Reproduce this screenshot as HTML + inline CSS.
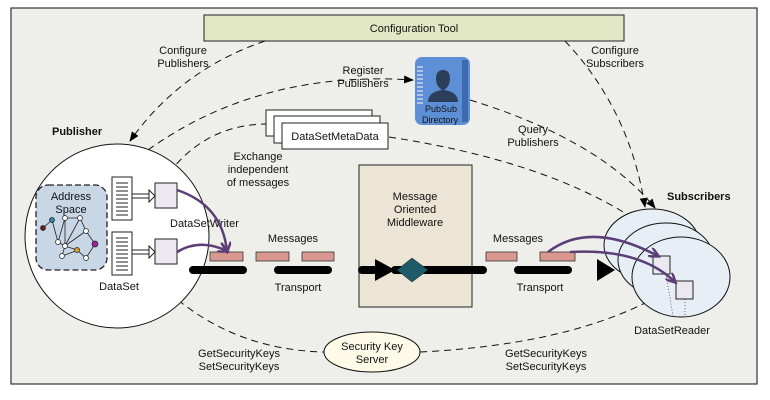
<!DOCTYPE html>
<html><head><meta charset="utf-8"><style>
body{margin:0;background:#fff}
svg{display:block}
text{font-family:"Liberation Sans",Arial,sans-serif;font-size:11px;fill:#111}
</style></head><body>
<svg width="770" height="400" viewBox="0 0 770 400" xmlns="http://www.w3.org/2000/svg">
<defs>
<marker id="ah" markerWidth="10" markerHeight="8" refX="9" refY="4" orient="auto" markerUnits="userSpaceOnUse"><path d="M0,0 L10,4 L0,8 z" fill="#000"/></marker>
<marker id="pa" markerWidth="12" markerHeight="10" refX="9" refY="5" orient="auto" markerUnits="userSpaceOnUse"><path d="M0,0 L10,5 L0,10" fill="none" stroke="#5b3e78" stroke-width="2.5"/></marker>
</defs>
<rect x="11" y="8" width="746" height="376" fill="#eeeeea" stroke="#333" stroke-width="1.2"/>
<rect x="204" y="15" width="420" height="26" fill="#e2e8c6" stroke="#222"/>
<text x="414" y="32" text-anchor="middle">Configuration Tool</text>
<g fill="none" stroke="#111" stroke-dasharray="7,5" stroke-width="1">
<path d="M265,41 Q180,70 130,141" marker-end="url(#ah)"/>
<path d="M565,41 Q630,110 645,207" marker-end="url(#ah)"/>
<path d="M470,100 Q600,140 655,208" marker-end="url(#ah)"/>
<path d="M148,150 Q260,70 413,80" marker-end="url(#ah)"/>
<path d="M162,183 Q200,125 266,124"/>
<path d="M389,137 Q540,160 628,215"/>
<path d="M178,300 Q240,350 324,352"/>
<path d="M420,352 Q560,345 645,303"/>
</g>
<circle cx="117" cy="236" r="92" fill="#fff" stroke="#111"/>
<rect x="36" y="185" width="71" height="85" rx="12" fill="#c9d6e6" stroke="#222" stroke-dasharray="6,3" stroke-width="1.3"/>
<text x="71" y="200" text-anchor="middle">Address</text>
<text x="71" y="213" text-anchor="middle">Space</text>
<g stroke="#222" stroke-width="0.8" fill="none">
<path d="M43,228 L52,220 L58,242 L65,218 L80,218 L86,231 L95,244 L86,258 L77,250 L65,246 L58,242"/>
<path d="M65,218 L65,246 L62,256 L73,252 L77,250"/>
<path d="M80,218 L65,246 M86,231 L65,246"/>
</g>
<g stroke="#222" stroke-width="0.7">
<circle cx="43" cy="228" r="2.5" fill="#6a1e1e"/><circle cx="52" cy="220" r="2.5" fill="#2a8aa0"/>
<circle cx="58" cy="242" r="2.5" fill="#fff"/><circle cx="65" cy="218" r="2.5" fill="#fff"/>
<circle cx="80" cy="218" r="2.5" fill="#fff"/><circle cx="86" cy="231" r="2.5" fill="#fff"/>
<circle cx="95" cy="244" r="3" fill="#a020a0"/><circle cx="86" cy="258" r="2.5" fill="#fff"/>
<circle cx="77" cy="250" r="2.5" fill="#d8a020"/><circle cx="65" cy="246" r="2.5" fill="#fff"/>
<circle cx="62" cy="256" r="2.5" fill="#fff"/>
</g>
<g stroke="#222" fill="#fff">
<rect x="112" y="177" width="20" height="43"/><rect x="112" y="232" width="20" height="43"/>
<rect x="155" y="183" width="22" height="25" fill="#ebe8f0"/><rect x="155" y="239" width="22" height="25" fill="#ebe8f0"/>
</g>
<g stroke="#222" stroke-width="1">
<path d="M116,183h12M116,187h12M116,191h12M116,195h12M116,199h12M116,203h12M116,207h12M116,211h12M116,215h12"/>
<path d="M116,238h12M116,242h12M116,246h12M116,250h12M116,254h12M116,258h12M116,262h12M116,266h12M116,270h12"/>
<path d="M132,194h17M132,198h17M132,250h17M132,254h17" stroke-width="0.9"/>
</g>
<path d="M149,190 L155,196 L149,202 z M149,246 L155,252 L149,258 z" fill="#fff" stroke="#222"/>
<text x="170" y="227">DataSetWriter</text>
<text x="119" y="290" text-anchor="middle">DataSet</text>
<text x="52" y="135" font-weight="bold">Publisher</text>
<g fill="#fff" stroke="#222">
<rect x="266" y="110" width="106" height="26"/><rect x="274" y="116" width="106" height="27"/><rect x="282" y="123" width="106" height="26"/>
</g>
<text x="335" y="140" text-anchor="middle">DataSetMetaData</text>
<text x="258" y="160" text-anchor="middle">Exchange</text>
<text x="258" y="173" text-anchor="middle">independent</text>
<text x="258" y="186" text-anchor="middle">of messages</text>
<rect x="415" y="57" width="55" height="68" rx="7" fill="#5d8fd6"/>
<rect x="462" y="60" width="6" height="62" fill="#3d6bb0"/>
<g stroke="#cfd8e8" stroke-width="1.5"><path d="M417,67h6M417,71h6M417,75h6M417,79h6M417,83h6M417,87h6M417,91h6M417,95h6M417,99h6M417,103h6"/></g>
<path d="M428,102 Q428,92 442,90 Q436,86 436,79 Q436,70 443,70 Q450,70 450,79 Q450,86 444,90 Q458,92 458,102 z" fill="#2c3f5a"/>
<text x="425" y="112" style="font-size:9px;fill:#111">PubSub</text>
<text x="422" y="123" style="font-size:9px;fill:#111">Directory</text>
<text x="183" y="54" text-anchor="middle">Configure</text>
<text x="183" y="67" text-anchor="middle">Publishers</text>
<text x="615" y="54" text-anchor="middle">Configure</text>
<text x="615" y="67" text-anchor="middle">Subscribers</text>
<text x="363" y="74" text-anchor="middle">Register</text>
<text x="363" y="87" text-anchor="middle">Publishers</text>
<text x="533" y="133" text-anchor="middle">Query</text>
<text x="533" y="146" text-anchor="middle">Publishers</text>
<rect x="359" y="165" width="113" height="142" fill="#ece5d5" stroke="#222"/>
<text x="415" y="200" text-anchor="middle">Message</text>
<text x="415" y="213" text-anchor="middle">Oriented</text>
<text x="415" y="226" text-anchor="middle">Middleware</text>
<g stroke="#000" stroke-width="8" stroke-linecap="round">
<path d="M193,270h50M278,270h50M362,270h14M395,270h88M518,270h50"/>
</g>
<path d="M375,259 L395,270 L375,281 z" fill="#000"/>
<path d="M397,270 L412,258 L428,270 L412,282 z" fill="#1f5a6a" stroke="#111" stroke-width="0.5"/>
<path d="M597,259 L615,270 L597,281 z" fill="#000"/>
<g fill="#d89890" stroke="#333" stroke-width="0.8">
<rect x="210" y="252" width="33" height="9"/><rect x="256" y="252" width="33" height="9"/><rect x="302" y="252" width="32" height="9"/>
<rect x="486" y="252" width="31" height="9"/><rect x="540" y="252" width="35" height="9"/>
</g>
<text x="293" y="242" text-anchor="middle">Messages</text>
<text x="518" y="242" text-anchor="middle">Messages</text>
<text x="298" y="291" text-anchor="middle">Transport</text>
<text x="540" y="291" text-anchor="middle">Transport</text>
<g fill="#e8eef6" stroke="#111">
<ellipse cx="652" cy="245" rx="48" ry="36"/>
<ellipse cx="666" cy="260" rx="48" ry="37"/>
<ellipse cx="681" cy="277" rx="49" ry="40"/>
</g>
<path d="M666,274 L673,316 M685,299 L685,316" stroke="#666" stroke-dasharray="1,2" fill="none"/>
<rect x="653" y="256" width="17" height="18" fill="#ebe8f0" stroke="#222"/>
<rect x="676" y="281" width="17" height="18" fill="#ebe8f0" stroke="#222"/>
<text x="667" y="200" font-weight="bold">Subscribers</text>
<text x="672" y="334" text-anchor="middle">DataSetReader</text>
<g fill="none" stroke="#5b3e78" stroke-width="2.5">
<path d="M177,190 Q222,205 227,251" marker-end="url(#pa)"/>
<path d="M177,252 Q200,238 227,251" marker-end="url(#pa)"/>
<path d="M548,252 Q590,220 658,256" marker-end="url(#pa)"/>
<path d="M570,252 Q640,248 675,282" marker-end="url(#pa)"/>
</g>
<ellipse cx="372" cy="352" rx="48" ry="20" fill="#fdfbe8" stroke="#111"/>
<text x="372" y="350" text-anchor="middle">Security Key</text>
<text x="372" y="363" text-anchor="middle">Server</text>
<text x="239" y="357" text-anchor="middle">GetSecurityKeys</text>
<text x="239" y="370" text-anchor="middle">SetSecurityKeys</text>
<text x="546" y="357" text-anchor="middle">GetSecurityKeys</text>
<text x="546" y="370" text-anchor="middle">SetSecurityKeys</text>
</svg>
</body></html>
